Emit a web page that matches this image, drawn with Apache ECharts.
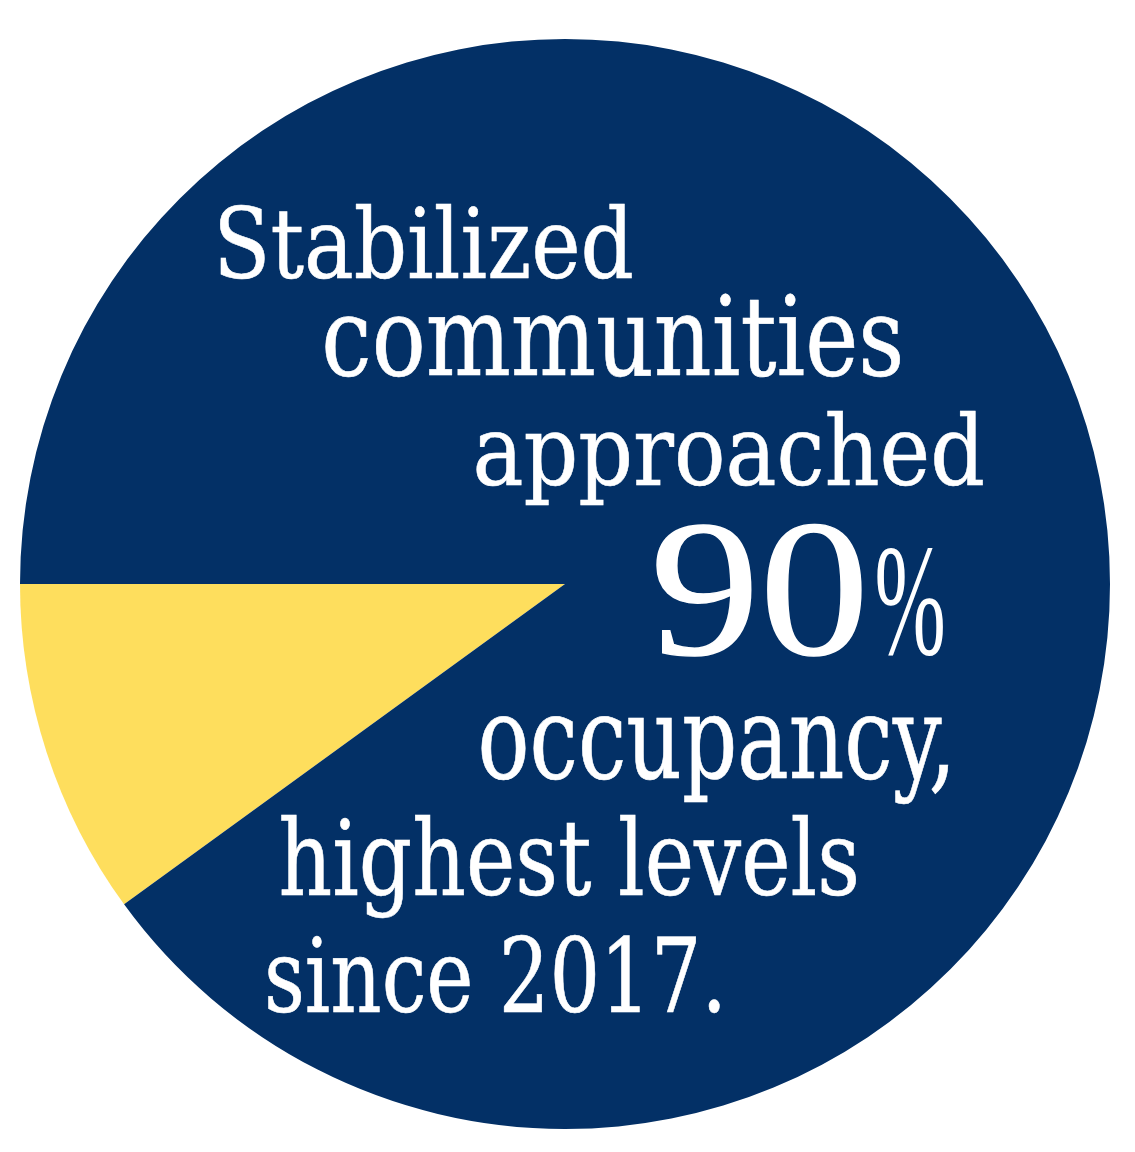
<!DOCTYPE html>
<html>
<head>
<meta charset="utf-8">
<script src="https://cdn.jsdelivr.net/npm/echarts@6/dist/echarts.min.js"></script>
<style>
html,body{margin:0;padding:0;background:#ffffff;}
#chart{width:1135px;height:1152px;}
</style>
</head>
<body>
<div id="chart"></div>
<script>
// ---- data ----
var categories = ['Not occupied', 'Occupied'];
var values = [10, 90];
var textLines = ['Stabilized', 'communities', 'approached', '90', '%', 'occupancy,', 'highest levels', 'since 2017.'];

// ---- layout (positions only) ----
var sliceColors = ['#FEDE5D', '#033066'];
// [left, right, top, baseline, fontFamily, fontSize, strokeWidth]
var lineBoxes = [
  [220, 632, 204, 278, 'DejaVu Serif Condensed', 110, 0.6],
  [325, 900, 293, 375, 'DejaVu Serif Condensed', 110, 0.6],
  [476, 983, 410, 485, 'DejaVu Serif Condensed', 110, 0.6],
  [656, 862, 524, 654, 'Liberation Serif', 180, 1.2],
  [877, 943, 548, 654, 'Liberation Serif', 140, 0],
  [481, 948, 715, 778, 'DejaVu Serif Condensed', 110, 0.6],
  [281, 856, 815, 895, 'DejaVu Serif Condensed', 110, 0.6],
  [268, 720, 935, 1012, 'DejaVu Serif Condensed', 110, 0.6]
];

var cv = document.createElement('canvas');
var ctx = cv.getContext('2d');

function buildText(txt, box) {
  var font = 'normal ' + box[5] + 'px "' + box[4] + '"';
  ctx.font = font;
  ctx.textBaseline = 'alphabetic';
  var ma = ctx.measureText(txt);
  ctx.textBaseline = 'middle';
  var mm = ctx.measureText(txt);
  var d = ma.actualBoundingBoxAscent - mm.actualBoundingBoxAscent;
  var w = ma.actualBoundingBoxLeft + ma.actualBoundingBoxRight;
  var sx = (box[1] - box[0]) / w;
  var sy = (box[3] - box[2]) / ma.actualBoundingBoxAscent;
  var style = {
    x: ma.actualBoundingBoxLeft,
    y: -d,
    text: txt,
    font: font,
    fill: '#ffffff',
    textAlign: 'left',
    textVerticalAlign: 'middle'
  };
  if (box[6] > 0) { style.stroke = '#ffffff'; style.lineWidth = box[6]; }
  return {
    type: 'text',
    x: box[0],
    y: box[3],
    scaleX: sx,
    scaleY: sy,
    silent: true,
    z: 100,
    style: style
  };
}

var graphics = textLines.map(function (t, i) { return buildText(t, lineBoxes[i]); });

var chart = echarts.init(document.getElementById('chart'));
chart.setOption({
  animation: false,
  backgroundColor: '#ffffff',
  series: [{
    type: 'pie',
    center: [565, 584],
    radius: 545,
    startAngle: 216,
    clockwise: true,
    silent: true,
    label: { show: false },
    labelLine: { show: false },
    itemStyle: { borderWidth: 0 },
    data: categories.map(function (c, i) {
      return { name: c, value: values[i], itemStyle: { color: sliceColors[i] } };
    })
  }],
  graphic: { elements: graphics }
});
</script>
</body>
</html>
